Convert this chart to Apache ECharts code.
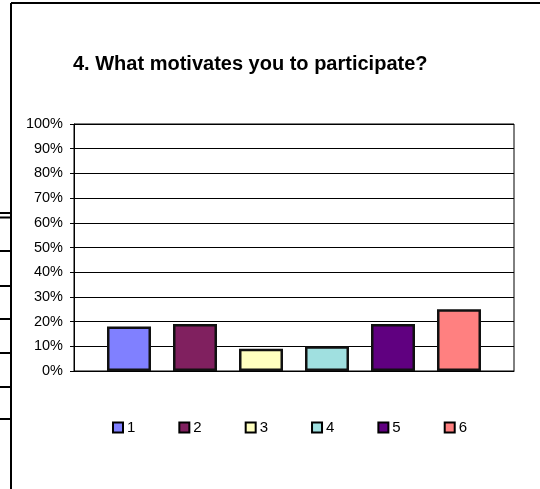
<!DOCTYPE html>
<html>
<head>
<meta charset="utf-8">
<script src="https://cdn.jsdelivr.net/npm/echarts@6/dist/echarts.min.js"></script>
<style>
  html, body { margin: 0; padding: 0; background: #fff; }
  #chart { width: 540px; height: 489px; }
</style>
</head>
<body>
<div id="chart"></div>
<script>
// Survey answers: share of respondents per motivation option
const seriesNames = ['1', '2', '3', '4', '5', '6'];
const seriesValues = [18, 19, 9, 10, 19, 25];
const seriesColors = ['#8080FF', '#80205F', '#FFFFC0', '#A0E0E0', '#600080', '#FF8080'];
const yTicks = [0, 10, 20, 30, 40, 50, 60, 70, 80, 90, 100];

const chart = echarts.init(document.getElementById('chart'), null, { renderer: 'canvas' });

const FONT = 'Arial, "Liberation Sans", sans-serif';

const series = seriesNames.map((name, i) => ({
  name: name,
  type: 'bar',
  data: [seriesValues[i]],
  barWidth: 44,
  barGap: '50%',
  itemStyle: {
    color: seriesColors[i],
    borderColor: '#111',
    borderWidth: 2.5
  },
  emphasis: { disabled: true }
}));

// Page frame and fragments of the surrounding table on the left margin
const tableRuleYs = [213, 217.5, 251, 286, 319, 353, 387, 419];
const frameGraphics = [
  { type: 'line', shape: { x1: 11, y1: 3, x2: 540, y2: 3 }, style: { stroke: '#000', lineWidth: 2 } },
  { type: 'line', shape: { x1: 11, y1: 3, x2: 11, y2: 489 }, style: { stroke: '#000', lineWidth: 2 } }
].concat(tableRuleYs.map(y => ({
  type: 'line', shape: { x1: 0, y1: y, x2: 11, y2: y }, style: { stroke: '#000', lineWidth: 2 }
})));

chart.setOption({
  animation: false,
  backgroundColor: '#fff',
  textStyle: { fontFamily: FONT },
  title: {
    text: '4. What motivates you to participate?',
    left: 68,
    top: 49,
    textStyle: { fontFamily: FONT, fontWeight: 'bold', fontSize: 20, color: '#000' }
  },
  graphic: frameGraphics,
  legend: {
    data: seriesNames,
    left: 112,
    top: 420,
    padding: 0,
    itemWidth: 10,
    itemHeight: 10,
    itemGap: 43,
    icon: 'rect',
    selectedMode: false,
    itemStyle: { borderColor: '#000', borderWidth: 2 },
    textStyle: { fontFamily: FONT, fontSize: 15, color: '#000', padding: [0, 0, 0, -1] }
  },
  grid: {
    left: 74,
    right: 26,
    top: 124,
    bottom: 118,
    show: true,
    borderColor: '#000',
    borderWidth: 1,
    backgroundColor: '#fff'
  },
  xAxis: {
    type: 'category',
    data: [''],
    axisLine: { lineStyle: { color: '#000', width: 1 } },
    axisTick: { show: false },
    axisLabel: { show: false }
  },
  yAxis: {
    type: 'value',
    min: yTicks[0],
    max: yTicks[yTicks.length - 1],
    interval: 10,
    axisLine: { show: true, lineStyle: { color: '#000', width: 1 } },
    axisTick: { show: true, length: 4, lineStyle: { color: '#000' } },
    axisLabel: {
      formatter: '{value}%',
      margin: 11,
      fontFamily: FONT,
      fontSize: 14.5,
      color: '#000'
    },
    splitLine: { show: true, lineStyle: { color: '#000', width: 1 } }
  },
  series: series
});
</script>
</body>
</html>
